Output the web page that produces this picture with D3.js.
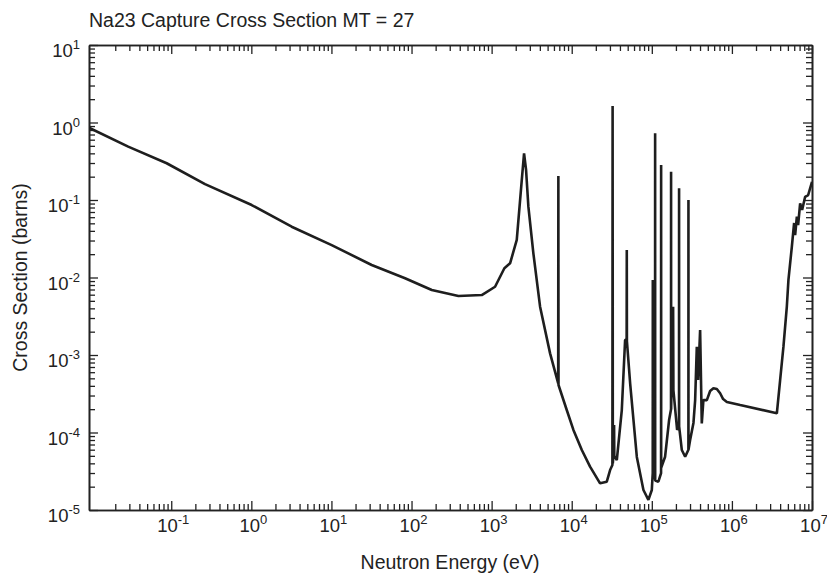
<!DOCTYPE html>
<html><head><meta charset="utf-8">
<script src="https://cdn.jsdelivr.net/npm/d3@7"></script>
<style>body{margin:0;background:#fff}text{font-family:"Liberation Sans",Arial,Helvetica,sans-serif;fill:#222}</style>
</head><body><svg id="c" width="827" height="575"></svg>
<script>
// Data (energy in eV, cross section in barns)
const energy = [
  0.0094, 0.029, 0.0877, 0.264, 1.01, 3.19, 10.07, 31.8, 83, 179, 385, 753, 1104, 1443, 1700, 2060, 2379, 2541, 2692, 2877, 3321, 4027, 5370,
  6780, 6811, 6840, 8670, 10500, 13370, 16940, 22600, 27400, 30150,
  32200, 32400, 32600, 33600, 33800, 34000, 36550, 42200, 46400, 48500, 48700, 48900, 53600, 65000, 78600, 90700, 100000,
  102700, 102900, 103100, 109800, 110000, 110200, 120800, 130500, 130700, 130900, 146500, 164400,
  173700, 174000, 174300, 184500, 186000, 207000, 218700, 219000, 219300, 237000, 260800, 286400, 286700, 287000,
  300800, 331000, 347600, 364600, 378600, 401000, 420700, 440500, 486700, 534600, 587800, 648000, 713000, 777000, 865000, 1268000, 3640000,
  4000000, 4400000, 4850000, 5080000, 5600000, 5980000, 6160000, 6470000, 6710000, 7110000, 7530000, 8210000, 8960000, 10000000
];
const sigma = [
  0.857, 0.488, 0.298, 0.160, 0.0861, 0.0452, 0.0262, 0.0145, 0.00977, 0.0069, 0.00577, 0.00594, 0.0076, 0.01315, 0.01524, 0.0305, 0.181, 0.40, 0.244, 0.082, 0.0205, 0.0042, 0.00105,
  0.00043, 0.204, 0.00041, 1.95e-4, 1.08e-4, 5.94e-5, 3.62e-5, 2.21e-5, 2.32e-5, 3.28e-5,
  3.8e-5, 1.63, 4.0e-5, 6e-5, 1.25e-4, 5e-5, 4.4e-5, 1.95e-4, 1.56e-3, 1.6e-3, 0.0227, 1.5e-3, 4.35e-4, 4.84e-5, 1.81e-5, 1.35e-5, 1.81e-5,
  3e-5, 9.3e-3, 3e-5, 2.5e-5, 0.726, 2.4e-5, 2.32e-5, 3e-5, 0.283, 3.5e-5, 4.87e-5, 1.45e-4,
  2e-4, 0.232, 2e-4, 4.2e-3, 3.53e-4, 1.08e-4, 1.2e-4, 0.142, 1.2e-4, 5.94e-5, 4.87e-5, 6e-5, 0.1, 6e-5,
  8e-5, 1.33e-4, 2.62e-4, 1.28e-3, 4.75e-4, 2.1e-3, 1.31e-4, 2.62e-4, 2.62e-4, 3.43e-4, 3.72e-4, 3.64e-4, 3.21e-4, 2.70e-4, 2.48e-4, 2.26e-4, 1.77e-4,
  4.75e-4, 1.28e-3, 4.2e-3, 9.3e-3, 0.0249, 0.0505, 0.0353, 0.061, 0.0475, 0.0906, 0.0743, 0.110, 0.116, 0.172
];
const xTickExps = [-1, 0, 1, 2, 3, 4, 5, 6, 7];
const yTickExps = [-5, -4, -3, -2, -1, 0, 1];
const titleText = "Na23 Capture Cross Section MT = 27";
const xTitle = "Neutron Energy (eV)";
const yTitle = "Cross Section (barns)";

const L = 89, R = 812, T = 45, B = 510;
const svg = d3.select("#c");
const x = d3.scaleLog().domain([0.0094, 1e7]).range([L, R]);
const y = d3.scaleLog().domain([1e-5, 10]).range([B, T]);

function minors(scale) {
  const [a, b] = scale.domain();
  const out = [];
  for (let e = Math.floor(Math.log10(a)); e <= Math.ceil(Math.log10(b)); e++) {
    for (let k = 2; k <= 9; k++) { const v = k * Math.pow(10, e); if (v > a && v < b) out.push(v); }
  }
  return out;
}
const xMajor = xTickExps.map(e => Math.pow(10, e));
const yMajor = yTickExps.map(e => Math.pow(10, e));
const MAJ = 9, MIN = 6;

function addAxis(axisFn, scale, tr, vals, size) {
  svg.append("g").attr("transform", tr)
    .call(axisFn(scale).tickValues(vals).tickSize(-size).tickSizeOuter(0).tickFormat(""))
    .call(g => g.selectAll("line").attr("stroke", "#222").attr("stroke-width", 1.3))
    .call(g => g.select(".domain").attr("stroke", "#222").attr("stroke-width", 1.6));
}
// bottom, top, left, right (ticks pointing inward)
[[d3.axisBottom, x, `translate(0,${B})`], [d3.axisTop, x, `translate(0,${T})`]].forEach(([f, s, tr]) => {
  addAxis(f, s, tr, xMajor, MAJ); addAxis(f, s, tr, minors(x), MIN);
});
[[d3.axisLeft, y, `translate(${L},0)`], [d3.axisRight, y, `translate(${R},0)`]].forEach(([f, s, tr]) => {
  addAxis(f, s, tr, yMajor, MAJ); addAxis(f, s, tr, minors(y), MIN);
});

// tick labels 10^n
xTickExps.forEach(e => {
  const t = svg.append("text").attr("x", x(Math.pow(10, e)) + 2).attr("y", 532)
    .attr("text-anchor", "middle").style("font-size", "18.5px");
  t.append("tspan").text("10");
  t.append("tspan").attr("dy", "-8").style("font-size", "13px").text(String(e));
});
yTickExps.forEach(e => {
  const t = svg.append("text").attr("x", 80).attr("y", y(Math.pow(10, e)) + 12)
    .attr("text-anchor", "end").style("font-size", "18.5px");
  t.append("tspan").text("10");
  t.append("tspan").attr("dy", "-8").style("font-size", "13px").text(String(e));
});

svg.append("text").attr("x", 89).attr("y", 27).style("font-size", "19.5px").text(titleText);
svg.append("text").attr("x", 450).attr("y", 569).attr("text-anchor", "middle").style("font-size", "19.5px").text(xTitle);
svg.append("text").attr("transform", `translate(27,${(T + B) / 2}) rotate(-90)`).attr("text-anchor", "middle")
  .style("font-size", "19.5px").text(yTitle);

// curve
const pts = energy.map((e, i) => [e, sigma[i]]);
svg.append("defs").append("clipPath").attr("id", "clip").append("rect")
  .attr("x", L).attr("y", T).attr("width", R - L).attr("height", B - T);
svg.append("path").datum(pts).attr("clip-path", "url(#clip)")
  .attr("fill", "none").attr("stroke", "#1e1e1e").attr("stroke-width", 2.6)
  .attr("stroke-linejoin", "bevel")
  .attr("d", d3.line().x(d => x(d[0])).y(d => y(d[1])));
</script></body></html>
